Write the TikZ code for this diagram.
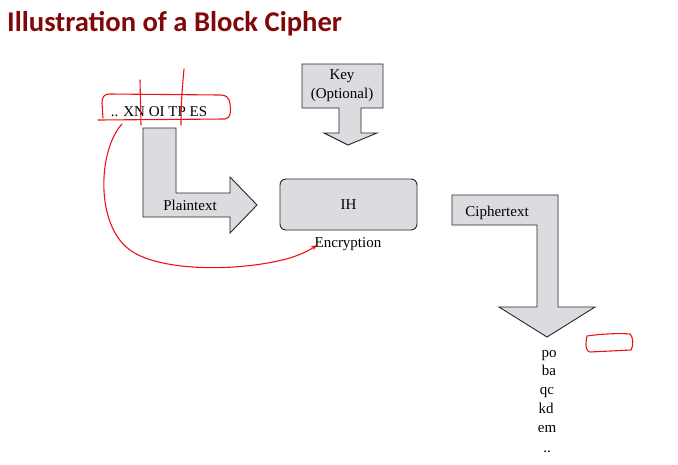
\documentclass[tikz,border=0pt]{standalone}
\usepackage{fontspec}
\setmainfont{Liberation Serif}
\newfontfamily\titlefont{Carlito}
\usetikzlibrary{arrows.meta}
\definecolor{titlered}{RGB}{128,8,8}
\definecolor{shapegray}{RGB}{221,219,223}
\definecolor{inkred}{RGB}{235,20,20}
\tikzset{
  shapebox/.style={draw=black!85, fill=shapegray, line width=0.9pt, line join=miter},
  lbl/.style={inner sep=0pt, font=\fontsize{15}{18}\selectfont},
  col/.style={lbl, anchor=base},
  ink/.style={draw=inkred, line width=1.1pt, line cap=round, line join=round},
}
\begin{document}
\begin{tikzpicture}[x=1pt,y=-1pt]
\useasboundingbox (0,0) rectangle (678,464);
% title
\node[anchor=base west, inner sep=0pt, text=titlered, font=\titlefont\bfseries\fontsize{28.6}{32}\selectfont] (title) at (7,31) {Illustration of a Block Cipher};

% plaintext arrow
\path[shapebox] (143,128) -- (176,128) -- (176,193) -- (230,193) -- (230,177) -- (257,205) -- (230,233) -- (230,217) -- (143,217) -- cycle;
\node[col] (plain) at (190,210) {Plaintext};

% key arrow
\path[shapebox] (302,64) -- (383,64) -- (383,108) -- (361,108) -- (361,133) -- (377,133) -- (348,145) -- (324,133) -- (339,133) -- (339,108) -- (302,108) -- cycle;
\node[lbl, align=center] (key) at (342,86) {Key\\[1pt](Optional)};

% encryption box
\node[shapebox, rounded corners=6pt, minimum width=137pt, minimum height=51pt, font=\fontsize{15}{18}\selectfont] (enc) at (348.5,204.5) {IH};
\node[col] (enclbl) at (348,247) {Encryption};

% ciphertext arrow
\path[shapebox] (452,195) -- (558,195) -- (558,307) -- (595,307) -- (547,337) -- (499,307) -- (537,307) -- (537,225) -- (452,225) -- cycle;
\node[col] (ciph) at (497,216) {Ciphertext};

% output column
\node[col] (c1) at (549,357) {po};
\node[col] (c2) at (549,375) {ba};
\node[col] (c3) at (547,394) {qc};
\node[col] (c4) at (546,413) {kd};
\node[col] (c5) at (547,432) {em};
\node[col] (c6) at (547,452) {..};

% input text
\node[lbl] (input) at (159,112) {.. XN OI TP ES};

% red annotations
\draw[ink] (98,120) -- (225,119) .. controls (231,118) and (231,112) .. (230,104)
  .. controls (229,97) and (226,95) .. (220,95) -- (110,94)
  .. controls (104,94) and (102,97) .. (102,103) -- (103,118);
\draw[ink] (140,80) -- (141,125);
\draw[ink] (184,69) .. controls (183,80) and (181,100) .. (181,125);
\coordinate (cstart) at (122,124);
\coordinate (cend) at (317,245);
\draw[ink, -{Stealth[length=6pt,width=5pt]}] (cstart) .. controls (98,150) and (95,225) .. (130,250)
  .. controls (160,272) and (240,272) .. (290,258)
  .. controls (302,254) and (310,250) .. (cend);
\draw[ink] (587,336) .. controls (600,334) and (620,333) .. (630,334)
  .. controls (633,336) and (634,346) .. (631,350)
  -- (590,352) .. controls (586,352) and (585,345) .. (587,336);
\end{tikzpicture}
\end{document}
